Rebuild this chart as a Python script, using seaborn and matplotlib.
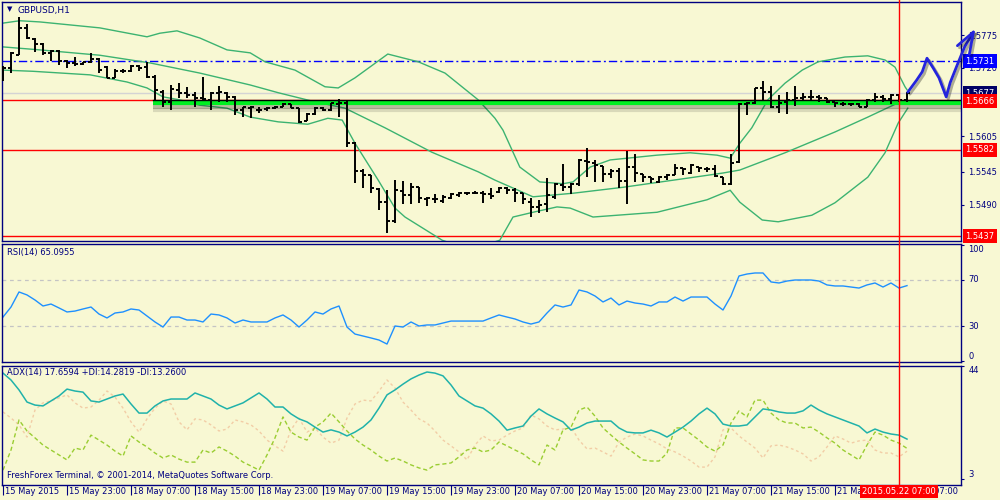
import numpy as np
import matplotlib
matplotlib.use("Agg")
import matplotlib.pyplot as plt
import matplotlib.patheffects as pe
import matplotlib.transforms as mtransforms
from matplotlib.lines import Line2D
import seaborn as sns

plt.rcParams['font.family'] = ['DejaVu Sans']

# ---------------- data (GBPUSD H1, 15 May 2015 15:00 .. 22 May 2015 08:00) ----------------
opens = [1.5721,1.5720,1.5741,1.5787,1.5768,1.5760,1.5745,1.5748,1.5731,1.5728,
         1.5726,1.5730,1.5735,1.5721,1.5703,1.5714,1.5714,1.5723,1.5721,1.5704,
         1.5679,1.5662,1.5683,1.5678,1.5674,1.5669,1.5666,1.5678,1.5678,1.5671,
         1.5649,1.5652,1.5649,1.5651,1.5652,1.5654,1.5659,1.5652,1.5630,1.5642,
         1.5652,1.5649,1.5659,1.5661,1.5594,1.5546,1.5540,1.5516,1.5494,1.5462,
         1.5513,1.5506,1.5519,1.5499,1.5499,1.5496,1.5501,1.5506,1.5509,1.5509,
         1.5509,1.5508,1.5511,1.5518,1.5514,1.5509,1.5494,1.5486,1.5491,1.5503,
         1.5523,1.5519,1.5525,1.5563,1.5560,1.5555,1.5541,1.5546,1.5530,1.5553,
         1.5541,1.5536,1.5528,1.5536,1.5540,1.5551,1.5543,1.5553,1.5550,1.5550,
         1.5536,1.5525,1.5561,1.5659,1.5661,1.5686,1.5679,1.5654,1.5662,1.5666,
         1.5669,1.5671,1.5671,1.5669,1.5662,1.5659,1.5659,1.5659,1.5654,1.5666,
         1.5671,1.5667,1.5674,1.5666]
highs = [1.5723,1.5746,1.5805,1.5793,1.5770,1.5762,1.5750,1.5750,1.5733,1.5738,
         1.5730,1.5745,1.5736,1.5723,1.5718,1.5718,1.5725,1.5725,1.5730,1.5708,
         1.5683,1.5691,1.5694,1.5688,1.5679,1.5704,1.5679,1.5689,1.5679,1.5672,
         1.5654,1.5656,1.5654,1.5654,1.5656,1.5661,1.5659,1.5652,1.5644,1.5654,
         1.5654,1.5661,1.5667,1.5666,1.5595,1.5550,1.5540,1.5518,1.5514,1.5531,
         1.5530,1.5526,1.5519,1.5503,1.5508,1.5506,1.5509,1.5511,1.5511,1.5513,
         1.5513,1.5518,1.5519,1.5519,1.5518,1.5509,1.5501,1.5498,1.5535,1.5526,
         1.5558,1.5526,1.5567,1.5585,1.5565,1.5555,1.5550,1.5551,1.5580,1.5575,
         1.5541,1.5536,1.5538,1.5541,1.5558,1.5551,1.5558,1.5553,1.5553,1.5557,
         1.5536,1.5575,1.5661,1.5662,1.5686,1.5698,1.5689,1.5674,1.5679,1.5689,
         1.5678,1.5683,1.5674,1.5669,1.5662,1.5662,1.5661,1.5661,1.5667,1.5678,
         1.5674,1.5676,1.5676,1.5679]
lows = [1.5698,1.5711,1.5741,1.5768,1.5746,1.5741,1.5731,1.5725,1.5720,1.5723,
        1.5725,1.5728,1.5711,1.5703,1.5703,1.5711,1.5713,1.5714,1.5703,1.5664,
        1.5654,1.5649,1.5669,1.5669,1.5654,1.5666,1.5649,1.5662,1.5662,1.5640,
        1.5637,1.5635,1.5644,1.5647,1.5651,1.5654,1.5652,1.5627,1.5630,1.5640,
        1.5647,1.5647,1.5637,1.5587,1.5526,1.5518,1.5509,1.5481,1.5442,1.5459,
        1.5491,1.5491,1.5493,1.5488,1.5493,1.5493,1.5499,1.5503,1.5506,1.5508,
        1.5493,1.5499,1.5509,1.5508,1.5494,1.5491,1.5469,1.5476,1.5478,1.5499,
        1.5513,1.5508,1.5521,1.5536,1.5528,1.5528,1.5535,1.5518,1.5491,1.5528,
        1.5528,1.5526,1.5526,1.5531,1.5540,1.5540,1.5541,1.5545,1.5545,1.5536,
        1.5523,1.5523,1.5560,1.5640,1.5659,1.5666,1.5652,1.5644,1.5642,1.5656,
        1.5666,1.5666,1.5662,1.5661,1.5654,1.5656,1.5656,1.5654,1.5654,1.5662,
        1.5662,1.5659,1.5662,1.5662]
closes = [1.5720,1.5745,1.5787,1.5770,1.5760,1.5745,1.5748,1.5731,1.5728,1.5726,
          1.5730,1.5735,1.5716,1.5703,1.5714,1.5714,1.5723,1.5720,1.5704,1.5683,
          1.5662,1.5684,1.5678,1.5674,1.5669,1.5667,1.5678,1.5679,1.5671,1.5649,
          1.5654,1.5654,1.5649,1.5652,1.5654,1.5659,1.5652,1.5629,1.5642,1.5652,
          1.5649,1.5661,1.5661,1.5594,1.5546,1.5540,1.5518,1.5494,1.5462,1.5514,
          1.5506,1.5519,1.5501,1.5501,1.5499,1.5503,1.5508,1.5509,1.5509,1.5509,
          1.5508,1.5504,1.5518,1.5514,1.5509,1.5499,1.5486,1.5489,1.5506,1.5525,
          1.5519,1.5525,1.5565,1.5561,1.5557,1.5541,1.5546,1.5530,1.5553,1.5543,
          1.5536,1.5533,1.5536,1.5540,1.5551,1.5550,1.5557,1.5551,1.5550,1.5538,
          1.5525,1.5560,1.5659,1.5661,1.5686,1.5679,1.5654,1.5661,1.5666,1.5669,
          1.5671,1.5671,1.5669,1.5662,1.5661,1.5659,1.5659,1.5654,1.5666,1.5671,
          1.5667,1.5674,1.5666,1.5678]

# Bollinger bands (20) at bar positions
bb_up_idx = [0,2.1,4.6,12.1,18,19.6,21.75,24.6,28,30.9,32.75,36.5,40.25,41.9,44,48.1,51.9,55.25,
             59.4,61.5,62.5,64.6,67.1,70,71.25,73.4,75.9,81.75,85.9,89.25,90.9,92.1,93.6,95.6,
             97.75,99.9,101.9,105.25,108.1,110.25,111.5,112.75,113]
bb_upper = [1.5795,1.5799,1.5797,1.5787,1.5772,1.5778,1.5782,1.5770,1.5750,1.5745,1.5730,1.5716,
            1.5688,1.5686,1.5703,1.5743,1.5730,1.5711,1.5666,1.5635,1.5615,1.5553,1.5528,1.5525,
            1.5528,1.5553,1.5565,1.5573,1.5577,1.5573,1.5568,1.5593,1.5619,1.5666,1.5694,1.5716,
            1.5730,1.5738,1.5740,1.5733,1.5721,1.5688,1.5683]
bb_mid_idx = [0,4.6,12.1,18.4,24.6,30.9,34.4,38.6,42.75,47.75,53.6,59.4,61.5,66.25,71.25,77.5,
              85.9,90,92.1,97.75,104,108.1,111.9,113]
bb_mid = [1.5755,1.5750,1.5741,1.5728,1.5711,1.5691,1.5678,1.5664,1.5652,1.5619,1.5578,1.5545,
          1.5531,1.5503,1.5509,1.5519,1.5535,1.5543,1.5548,1.5577,1.5612,1.5637,1.5661,1.5666]
bb_lo_idx = [0,3.75,10.9,15.5,18,20,22.1,24.6,28,30.9,34.4,38.1,40.6,42.4,44,46.9,49,50.25,
             54.9,58.4,62.1,63.75,66.25,69.25,70.9,73.75,81.75,88,90.9,92.1,94.9,96.9,101.1,
             104,108.1,110.25,111.9,113.1]
bb_lower = [1.5716,1.5714,1.5708,1.5696,1.5686,1.5671,1.5666,1.5657,1.5652,1.5637,1.5629,1.5625,
            1.5635,1.5632,1.5593,1.5531,1.5484,1.5469,1.5430,1.5414,1.5430,1.5469,1.5477,1.5486,
            1.5484,1.5469,1.5477,1.5498,1.5514,1.5494,1.5464,1.5461,1.5472,1.5493,1.5536,1.5577,
            1.5627,1.5652]

rsi = [37.8,46.5,59.6,57.0,52.6,47.4,49.1,45.7,42.2,43.0,
       44.8,46.5,40.4,37.0,41.3,42.2,44.8,43.9,38.7,33.5,
       29.1,37.8,37.8,35.2,35.2,33.5,40.4,39.6,37.0,32.6,
       35.2,33.5,33.5,33.5,37.0,39.6,35.2,29.1,35.2,42.2,
       40.4,44.8,47.4,29.1,23.0,21.3,19.6,17.8,14.3,30.0,
       29.1,33.5,30.0,30.9,30.9,32.6,34.3,34.3,34.3,34.3,
       34.3,37.0,39.6,37.8,36.1,33.5,31.7,33.5,41.3,48.3,
       46.5,48.3,61.3,59.6,56.1,50.9,54.3,48.3,51.7,50.0,
       49.1,47.4,50.9,50.9,55.2,51.7,55.2,55.2,55.2,49.1,
       43.9,56.1,73.5,75.2,76.1,76.1,68.3,67.4,69.1,70.0,
       70.0,70.0,69.1,65.7,64.8,64.8,63.9,63.0,65.7,67.4,
       63.9,67.4,63.0,65.1]
adx = [41.6,39.1,35.5,31.1,30.0,29.7,31.5,33.3,35.8,35.1,
       34.7,31.5,31.1,32.2,33.3,34.0,30.4,27.1,27.1,29.7,
       31.5,32.2,32.2,32.2,34.4,33.3,32.2,30.0,28.6,29.7,
       30.8,32.6,34.4,32.2,29.3,29.3,26.8,25.0,23.9,22.0,
       20.2,21.0,20.2,18.8,20.2,22.0,24.6,28.9,33.7,35.5,
       37.6,39.5,40.9,42.0,41.6,40.6,37.3,33.3,31.5,29.7,
       28.9,26.8,24.2,20.9,21.7,22.4,26.0,28.6,26.8,25.3,
       23.9,20.9,22.0,23.5,24.2,24.2,24.2,21.7,20.2,19.9,
       19.9,20.9,19.9,18.4,20.2,22.0,24.2,26.8,28.9,26.8,
       23.1,22.4,22.4,22.8,25.7,28.6,28.2,27.5,27.1,27.1,
       27.9,30.0,28.2,26.8,25.7,24.6,23.5,22.4,19.9,21.3,
       20.2,19.5,19.1,17.66]
plus_di = [6.4,13.7,24.6,20.6,18.1,15.5,13.7,11.9,10.1,14.4,
           13.7,19.1,17.3,15.5,13.3,11.5,18.8,16.6,14.8,12.6,
           10.8,11.9,10.4,9.3,9.3,13.7,12.6,14.8,13.3,11.5,
           9.3,7.9,6.4,11.9,18.1,25.7,20.2,18.4,17.3,22.0,
           23.9,27.1,23.9,20.6,17.7,15.5,13.7,11.5,9.7,10.8,
           9.7,8.3,7.2,6.4,8.3,8.6,9.0,11.2,13.7,14.4,
           13.0,13.7,16.6,15.2,13.7,12.3,10.1,8.3,15.5,13.7,
           21.0,22.0,28.2,29.3,26.0,21.7,19.1,16.6,14.4,12.3,
           10.1,9.7,9.7,12.6,21.7,21.7,19.5,17.3,14.8,13.3,
           15.5,23.5,27.9,25.7,31.8,31.8,27.1,24.6,23.5,23.5,
           21.7,22.0,20.2,18.1,16.2,13.7,11.9,10.1,15.5,20.2,
           19.1,17.3,16.2,14.28]
minus_di = [27.5,25.3,22.8,18.4,28.2,30.8,31.5,32.6,33.7,30.8,
            28.9,29.3,31.8,35.1,32.9,28.9,23.9,20.2,25.0,28.9,
            31.5,30.4,23.9,21.0,25.0,24.6,22.8,20.6,21.3,24.6,
            23.9,22.8,20.6,17.3,15.2,13.3,21.0,25.3,20.2,21.7,
            18.4,16.2,17.3,25.3,30.4,31.8,31.5,35.1,39.1,36.2,
            31.1,28.2,25.0,23.5,20.6,17.3,15.2,13.0,10.1,15.5,
            18.8,17.0,17.3,19.1,20.6,21.7,26.4,25.0,22.4,21.0,
            21.3,22.0,17.3,14.1,14.4,13.0,11.5,16.6,18.4,19.5,
            18.8,17.3,15.9,14.1,13.0,11.5,9.7,7.5,7.5,11.2,
            21.0,21.7,18.8,16.6,14.4,10.8,15.2,15.5,14.8,13.7,
            12.3,9.7,11.2,14.8,18.8,17.7,16.2,17.0,17.3,13.7,
            12.6,12.6,11.2,13.26]

rsi_text = "RSI(14) 65.0955"
adx_text = "ADX(14) 17.6594 +DI:14.2819 -DI:13.2600"
symbol_text = "GBPUSD,H1"
copyright_text = "FreshForex Terminal, © 2001-2014, MetaQuotes Software Corp."
time_labels = ["15 May 2015", "15 May 23:00", "18 May 07:00", "18 May 15:00", "18 May 23:00",
               "19 May 07:00", "19 May 15:00", "19 May 23:00", "20 May 07:00", "20 May 15:00",
               "20 May 23:00", "21 May 07:00", "21 May 15:00", "21 May 23:00", "22 May 07:00"]
label_step = 8
price_ticks = [1.5490, 1.5545, 1.5605, 1.5720, 1.5775]
level_resistance = 1.5731
level_support = 1.5666
level_mid = 1.5582
level_low = 1.5437
bid = 1.5677
cursor_bar = 112
cursor_text = "2015.05.22 07:00"
# hand-drawn forecast arrow (bar index, price)
arrow_x = [113.1, 114.2, 114.9, 115.5, 116.3, 117.0, 117.9, 118.4, 119.2, 120.2, 121.3]
arrow_y = [1.5679, 1.5699, 1.5713, 1.5736, 1.5719, 1.5703, 1.5671, 1.5695, 1.5722, 1.5755, 1.5780]
arrow_head_x = [119.3, 121.3, 120.8]
arrow_head_y = [1.5757, 1.5780, 1.5743]

# ---------------- styling ----------------
BG = '#F8F8D3'
NAVY = '#000080'
BBC = '#3CB371'
FS = 6

bars = np.arange(len(closes))
o = np.array(opens); h = np.array(highs); l = np.array(lows); c = np.array(closes)

fig = plt.figure(figsize=(10, 5), dpi=100, facecolor=BG)
L, W = 0.002, 0.959
ax1 = fig.add_axes([L, 0.518, W, 0.478])
ax2 = fig.add_axes([L, 0.276, W, 0.236])
ax3 = fig.add_axes([L, 0.030, W, 0.238])

for ax in (ax1, ax2, ax3):
    ax.set_facecolor(BG)
    for s in ax.spines.values():
        s.set_color(NAVY)
        s.set_linewidth(1.0)
    ax.set_xlim(-0.125, 119.75)
    ax.set_xticks([])
    ax.yaxis.tick_right()
    ax.tick_params(axis='y', direction='out', length=2.5, width=0.8, color=NAVY,
                   labelcolor=NAVY, labelsize=FS, pad=2.5)

# ---------------- main price panel ----------------
ax1.set_ylim(1.54287, 1.58305)
for xi, arr in ((bb_up_idx, bb_upper), (bb_mid_idx, bb_mid), (bb_lo_idx, bb_lower)):
    sns.lineplot(x=xi, y=arr, ax=ax1, color=BBC, linewidth=1.0, legend=False, zorder=2)

ax1.axhline(bid, color='#D4D4D4', lw=1.0, zorder=1)
ax1.axhline(level_resistance, color='#0000FF', lw=1.0, linestyle=(0, (6, 2.2, 1.4, 2.2)), zorder=1)
ax1.axhline(level_support, color='#FF0000', lw=1.0, zorder=1)
ax1.axhline(level_mid, color='#FF0000', lw=1.0, zorder=1)
ax1.axhline(level_low, color='#FF0000', lw=1.0, zorder=1)

# green support band with shadow
gx0 = 18.75
ax1.plot([gx0, 119.75], [level_support - 0.0006, level_support - 0.0006], color='#00EE22', lw=3.0,
         solid_capstyle='butt', zorder=3,
         path_effects=[pe.SimpleLineShadow(offset=(0, -4.5), shadow_color='black', alpha=0.12),
                       pe.SimpleLineShadow(offset=(0, -2.5), shadow_color='black', alpha=0.25),
                       pe.Normal()])
ax1.plot([gx0, 119.75], [level_support, level_support], color='black', lw=1.0, zorder=4)

# OHLC bars
tick = 0.375
ax1.vlines(bars, l, h, color='black', lw=1.4, zorder=5)
ax1.hlines(o, bars - tick, bars, color='black', lw=1.4, zorder=5)
ax1.hlines(c, bars, bars + tick, color='black', lw=1.4, zorder=5)

ax1.set_yticks(price_ticks)
ax1.set_yticklabels([f"{v:.4f}" for v in price_ticks])

# arrow
aeff = [pe.SimpleLineShadow(offset=(1.5, -1.5), shadow_color='black', alpha=0.3), pe.Normal()]
ax1.plot(arrow_x, arrow_y, color='#2424DC', lw=2.0, clip_on=False, zorder=12,
         solid_joinstyle='round', solid_capstyle='round', path_effects=aeff)
ax1.plot(arrow_head_x, arrow_head_y, color='#2424DC', lw=2.0, clip_on=False, zorder=12,
         solid_joinstyle='round', solid_capstyle='round', path_effects=aeff)

tr1 = mtransforms.blended_transform_factory(ax1.transAxes, ax1.transData)
def price_box(val, col, ypos=None):
    ax1.text(1.0045, val if ypos is None else ypos, f"{val:.4f}", transform=tr1, ha='left', va='center',
             fontsize=FS, color='white', clip_on=False, zorder=11,
             bbox=dict(boxstyle='square,pad=0.3', fc=col, ec='none'))
price_box(level_resistance, '#0000FF')
price_box(bid, '#000066', ypos=bid + 0.00005)
price_box(level_support, '#FF0000', ypos=level_support - 0.0002)
price_box(level_mid, '#FF0000')
price_box(level_low, '#FF0000')

fig.text(0.0095, 0.981, '▼', fontsize=5, color=NAVY, ha='center', va='center')
fig.text(0.017, 0.980, symbol_text, fontsize=6.5, color=NAVY, ha='left', va='center')

# ---------------- RSI panel ----------------
ax2.set_ylim(-1.3, 101.3)
ax2.axhline(70, color='#C4C4C4', lw=0.9, linestyle=(0, (3, 3)))
ax2.axhline(30, color='#C4C4C4', lw=0.9, linestyle=(0, (3, 3)))
sns.lineplot(x=bars, y=rsi, ax=ax2, color='#1E90FF', linewidth=1.0, legend=False)
ax2.set_yticks([100, 70, 30, 0])
ax2.set_yticklabels([])
tr2 = mtransforms.blended_transform_factory(ax2.transAxes, ax2.transData)
for v, va in zip([100, 70, 30, 0], ['top', 'center', 'center', 'bottom']):
    ax2.text(1.0075, v, str(v), transform=tr2, ha='left', va=va, fontsize=FS, color=NAVY, clip_on=False)
fig.text(0.007, 0.496, rsi_text, fontsize=FS, color=NAVY, ha='left', va='center')

# ---------------- ADX panel ----------------
ax3.set_ylim(1.0, 44.18)
sns.lineplot(x=bars, y=minus_di, ax=ax3, color='#F2CDA6', linewidth=1.0, linestyle=(0, (2, 2)), legend=False)
sns.lineplot(x=bars, y=plus_di, ax=ax3, color='#9ACD32', linewidth=1.0, linestyle=(0, (3, 2)), legend=False)
sns.lineplot(x=bars, y=adx, ax=ax3, color='#20B2AA', linewidth=1.1, legend=False)
ax3.set_yticks([44, 3])
ax3.set_yticklabels([])
tr3 = mtransforms.blended_transform_factory(ax3.transAxes, ax3.transData)
for v, va in zip([44, 3], ['top', 'bottom']):
    ax3.text(1.0075, v, str(v), transform=tr3, ha='left', va=va, fontsize=FS, color=NAVY, clip_on=False)
fig.text(0.007, 0.254, adx_text, fontsize=FS, color=NAVY, ha='left', va='center')
fig.text(0.007, 0.050, copyright_text, fontsize=FS, color=NAVY, ha='left', va='center')

# time axis
tick_pos = [k * label_step for k in range(len(time_labels))]
ax3.set_xticks(tick_pos)
ax3.set_xticklabels([])
ax3.tick_params(axis='x', direction='out', length=7, width=0.8, color=NAVY)
trx = mtransforms.blended_transform_factory(ax3.transData, ax3.transAxes)
for p, t in zip(tick_pos, time_labels):
    ax3.text(p + 0.25, -0.052, t, transform=trx, ha='left', va='center', fontsize=FS,
             color=NAVY, clip_on=False)

# cursor line and date box
xc = L + (cursor_bar + 0.125) / 119.875 * W
fig.add_artist(Line2D([xc, xc], [0.030, 1.0], color='#FF0000', lw=1.0, zorder=2))
fig.text(xc, 0.017, cursor_text, fontsize=FS, color='white', ha='center', va='center', zorder=20,
         bbox=dict(boxstyle='square,pad=0.25', fc='#FF0000', ec='none'))

fig.savefig('out.png', dpi=100, facecolor=BG)
